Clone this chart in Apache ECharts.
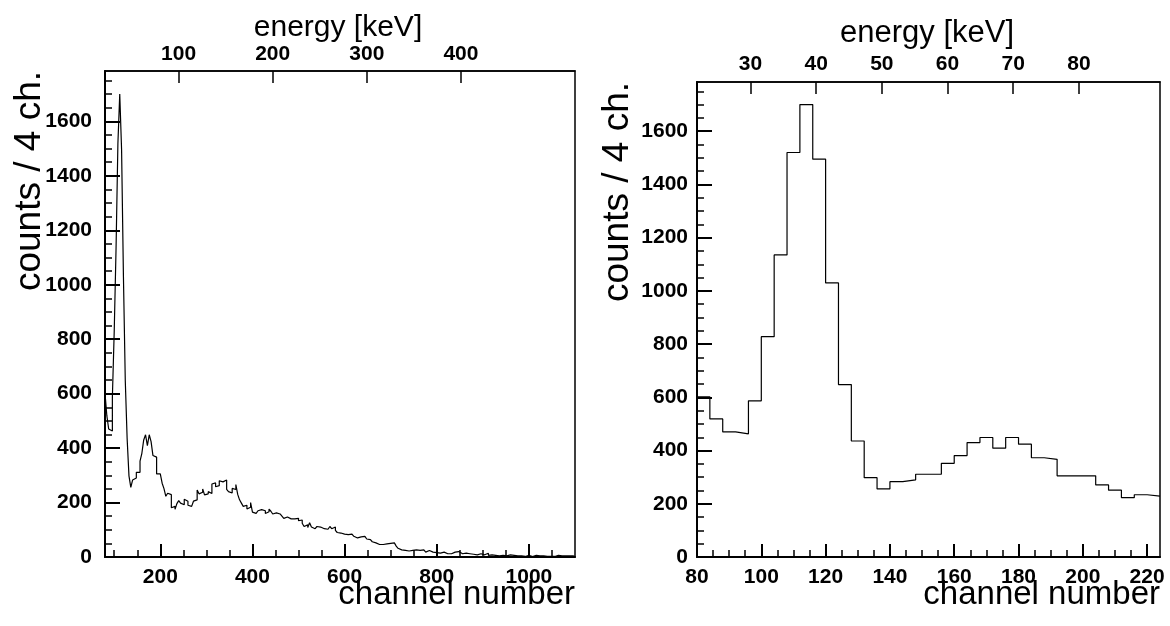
<!DOCTYPE html>
<html>
<head>
<meta charset="utf-8">
<script src="https://cdn.jsdelivr.net/npm/echarts@6/dist/echarts.min.js"></script>
<style>
html,body{margin:0;padding:0;background:#fff;}
#chart{width:1170px;height:626px;}
</style>
</head>
<body>
<div id="chart"></div>
<script>
// ---- data ----
const chStart = 80;          // first bin lower edge (channel)
const binWidth = 4;          // channels per bin
// counts per 4-channel bin, starting at channel 80
const counts = [
  602,519,470,463,587,828,1135,1520,1700,1495,
  1030,648,436,298,256,283,290,311,311,352,
  381,430,449,409,449,424,373,367,305,305,
  305,271,251,223,234,229,
  181,186,175,196,207,198,192,212,205,190,
  186,193,205,210,246,232,238,250,228,232,
  240,233,268,272,258,262,280,276,270,283,
  248,240,235,252,248,266,230,210,198,186,
  190,176,183,200,165,160,164,170,174,168,
  170,160,166,176,168,158,162,168,158,154,
  150,142,147,150,140,145,140,136,142,133,
  136,124,112,118,108,126,110,104,108,112,
  110,108,104,106,102,108,112,104,110,98,
  90,88,92,84,86,82,86,84,80,76,
  70,68,74,72,76,70,66,64,62,56,
  52,48,46,44,46,42,48,52,50,48,
  52,46,40,32,26,28,24,26,22,28,
  24,22,26,20,24,28,26,22,18,24,
  20,18,20,16,18,14,16,18,14,12,
  16,12,14,18,16,20,14,12,10,14,
  10,12,8,10,14,8,10,12,6,8,
  10,14,6,8,12,6,10,4,8,6,
  10,4,6,8,4,6,10,4,6,4,
  6,2,4,6,4,2,4,6,2,4,
  2,4,6,2,4,2,4,2,4,6,
  2,4,2,4,2,4,6,4,2
];
// axis ranges
const leftChRange = [80, 1100];
const rightChRange = [80, 224];
const yMax = 1785;
// energy calibration E[keV] = calA * channel + calB
const calA = 0.4895, calB = -17.3;
// tick labels
const leftChTicks = [200, 400, 600, 800, 1000];
const leftChMinor = [100,150,250,300,350,450,500,550,650,700,750,850,900,950,1050];
const rightChTicks = [80, 100, 120, 140, 160, 180, 200, 220];
const rightChMinor = [85,90,95,105,110,115,125,130,135,145,150,155,165,170,175,185,190,195,205,210,215];
const leftKeVTicks = [100, 200, 300, 400];
const rightKeVTicks = [30, 40, 50, 60, 70, 80];
const yTicks = [0,200,400,600,800,1000,1200,1400,1600];
const yMinor = [50,100,150,250,300,350,450,500,550,650,700,750,850,900,950,1050,1100,1150,1250,1300,1350,1450,1500,1550,1650,1700,1750];

// ---- build histogram step points ----
function histPoints(maxCh) {
  const pts = [];
  let last = 0;
  for (let i = 0; i < counts.length; i++) {
    const x = chStart + i * binWidth;
    if (x >= maxCh) break;
    pts.push([x, counts[i]]);
    last = counts[i];
  }
  pts.push([Math.min(maxCh, chStart + counts.length * binWidth), last]);
  return pts;
}

const FONT = '"Liberation Sans", Arial, Helvetica, sans-serif';
const labelStyle = (margin, vals) => ({
  show: true, customValues: vals, color: '#000', fontFamily: FONT,
  fontWeight: 'bold', fontSize: 21, margin: margin,
  formatter: (v) => String(Math.round(v))
});
const noLabel = { show: false };

function xAxesFor(gridIndex, range, major, minor, keVTicks, topMargin) {
  return [
    { gridIndex, type: 'value', position: 'bottom', min: range[0], max: range[1],
      axisLine: { show: true, lineStyle: { color: '#000', width: 2 } },
      axisTick: { show: true, inside: true, length: 13, customValues: major, lineStyle: { color: '#000', width: 2 } },
      axisLabel: labelStyle(10, major), splitLine: { show: false } },
    { gridIndex, type: 'value', position: 'bottom', min: range[0], max: range[1],
      axisLine: { show: false },
      axisTick: { show: true, inside: true, length: 7, customValues: minor, lineStyle: { color: '#000', width: 1.5 } },
      axisLabel: noLabel, splitLine: { show: false } },
    { gridIndex, type: 'value', position: 'top',
      min: calA * range[0] + calB, max: calA * range[1] + calB,
      axisLine: { show: true, lineStyle: { color: '#000', width: 1.5 } },
      axisTick: { show: true, inside: true, length: 12, customValues: keVTicks, lineStyle: { color: '#000', width: 1.5 } },
      axisLabel: labelStyle(topMargin, keVTicks), splitLine: { show: false } }
  ];
}
function yAxesFor(gridIndex, labelMargin) {
  return [
    { gridIndex, type: 'value', position: 'left', min: 0, max: yMax,
      axisLine: { show: true, lineStyle: { color: '#000', width: 2 } },
      axisTick: { show: true, inside: true, length: 15, customValues: yTicks, lineStyle: { color: '#000', width: 2 } },
      axisLabel: labelStyle(labelMargin, yTicks), splitLine: { show: false } },
    { gridIndex, type: 'value', position: 'left', min: 0, max: yMax,
      axisLine: { show: false },
      axisTick: { show: true, inside: true, length: 7, customValues: yMinor, lineStyle: { color: '#000', width: 1.5 } },
      axisLabel: noLabel, splitLine: { show: false } }
  ];
}

const chart = echarts.init(document.getElementById('chart'), null, { renderer: 'canvas' });
const titleFont = (s) => ({ fill: '#000', fontFamily: FONT, fontSize: s, fontWeight: 'normal' });

chart.setOption({
  animation: false,
  backgroundColor: '#fff',
  grid: [
    { left: 105, top: 71, width: 470, height: 486, show: true, borderColor: '#000', borderWidth: 1.5, backgroundColor: 'transparent' },
    { left: 697, top: 82, width: 463, height: 475, show: true, borderColor: '#000', borderWidth: 1.5, backgroundColor: 'transparent' }
  ],
  xAxis: [
    ...xAxesFor(0, leftChRange, leftChTicks, leftChMinor, leftKeVTicks, 6),
    ...xAxesFor(1, rightChRange, rightChTicks, rightChMinor, rightKeVTicks, 7)
  ],
  yAxis: [
    ...yAxesFor(0, 13),
    ...yAxesFor(1, 9)
  ],
  series: [
    { type: 'line', xAxisIndex: 0, yAxisIndex: 0, step: 'end', symbol: 'none',
      data: histPoints(leftChRange[1]), lineStyle: { color: '#000', width: 1.2 }, clip: true },
    { type: 'line', xAxisIndex: 3, yAxisIndex: 2, step: 'end', symbol: 'none',
      data: histPoints(rightChRange[1]), lineStyle: { color: '#000', width: 1.2 }, clip: true }
  ],
  graphic: [
    { type: 'text', x: 338, y: 28, style: Object.assign(titleFont(30), { text: 'energy [keV]', align: 'center', verticalAlign: 'middle' }) },
    { type: 'text', x: 927, y: 33, style: Object.assign(titleFont(31), { text: 'energy [keV]', align: 'center', verticalAlign: 'middle' }) },
    { type: 'text', x: 575, y: 595, style: Object.assign(titleFont(33), { text: 'channel number', align: 'right', verticalAlign: 'middle' }) },
    { type: 'text', x: 1160, y: 595, style: Object.assign(titleFont(33), { text: 'channel number', align: 'right', verticalAlign: 'middle' }) },
    { type: 'text', x: 30, y: 181, rotation: Math.PI / 2, style: Object.assign(titleFont(37), { text: 'counts / 4 ch.', align: 'center', verticalAlign: 'middle' }) },
    { type: 'text', x: 618, y: 192, rotation: Math.PI / 2, style: Object.assign(titleFont(37), { text: 'counts / 4 ch.', align: 'center', verticalAlign: 'middle' }) }
  ]
});
</script>
</body>
</html>
